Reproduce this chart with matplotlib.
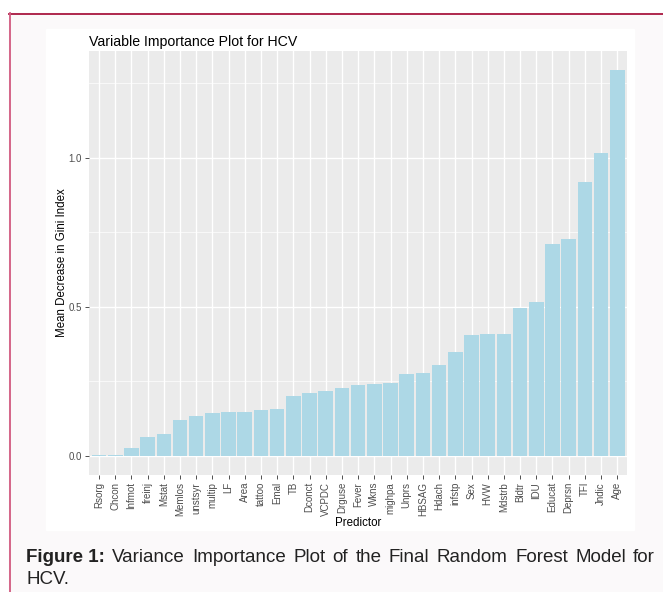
import numpy as np
import matplotlib.pyplot as plt
from matplotlib.patches import Rectangle
from matplotlib.lines import Line2D

plt.rcParams['font.family'] = ['Liberation Sans', 'DejaVu Sans']

predictors = ["Rsorg", "Chcon", "Infmot", "freinj", "Mstat", "Memlos", "unstsyr",
              "multip", "LF", "Area", "tattoo", "Emal", "TB", "Dconct", "VCPDC",
              "Drguse", "Fever", "Wkns", "mighpa", "Unprs", "HBSAG", "Hdach",
              "infstp", "Sex", "HVW", "Mdstrb", "Bldtr", "IDU", "Educat", "Deprsn",
              "TFI", "Jndic", "Age"]
gini_decrease = [0.002, 0.002, 0.026, 0.064, 0.074, 0.120, 0.132, 0.144, 0.148,
                 0.148, 0.152, 0.158, 0.202, 0.210, 0.218, 0.229, 0.238, 0.240,
                 0.243, 0.276, 0.278, 0.306, 0.349, 0.404, 0.407, 0.407, 0.497,
                 0.515, 0.712, 0.729, 0.918, 1.016, 1.294]

W, H = 663, 592
fig = plt.figure(figsize=(W / 100, H / 100), dpi=100, facecolor='white')


def box(x0, y0, x1, y1):
    # pixel box (top-left origin) -> figure fraction rectangle args
    return (x0 / W, 1 - y1 / H), (x1 - x0) / W, (y1 - y0) / H


# page background, plot card and frame lines
xy, w, h = box(9, 13, W, H)
fig.add_artist(Rectangle(xy, w, h, transform=fig.transFigure, color='#fbf9fa', zorder=-3))
xy, w, h = box(46, 29, 634, 530)
fig.add_artist(Rectangle(xy, w, h, transform=fig.transFigure, color='white', zorder=-2))
fig.add_artist(Line2D([9 / W, 1], [1 - 13.5 / H] * 2, transform=fig.transFigure,
                      color='#a8173f', lw=1.3))
fig.add_artist(Line2D([9.5 / W] * 2, [0, 1 - 13 / H], transform=fig.transFigure,
                      color='#d25a80', lw=1.3))

ax = fig.add_axes([89.3 / W, 1 - 475 / H, (627 - 89.3) / W, (475 - 51) / H])
ax.set_facecolor('#ebebeb')
for s in ax.spines.values():
    s.set_visible(False)

x = np.arange(len(predictors))
ax.bar(x, gini_decrease, width=0.9, color='#add8e6', zorder=3)

top = max(gini_decrease)
ax.set_ylim(-0.05 * top, top * 1.05)
ax.set_xlim(-0.6, len(predictors) - 0.4)
ax.set_yticks([0.0, 0.5, 1.0])
ax.set_yticklabels(['0.0', '0.5', '1.0'])
ax.set_yticks([0.25, 0.75, 1.25], minor=True)
ax.set_xticks(x)
ax.set_xticklabels(predictors, rotation=90)

ax.grid(True, which='major', color='white', lw=1.0, zorder=0)
ax.grid(True, which='minor', axis='y', color='white', lw=0.5, zorder=0)
ax.set_axisbelow(True)
ax.tick_params(which='major', length=3, width=0.6, color='#333333',
               labelsize=7, labelcolor='#4d4d4d', pad=2.5)
ax.tick_params(axis='x', which='major', pad=2)
ax.tick_params(which='minor', length=0)

ax.set_xlabel('Predictor', fontsize=8.3, labelpad=1)
ax.set_ylabel('Mean Decrease in Gini Index', fontsize=8.3, labelpad=0.5)
fig.text(89 / W, 1 - 46 / H, 'Variable Importance Plot for HCV', fontsize=10.2,
         va='baseline', ha='left')

# caption under the chart, first line justified between the margins
cap_y = 1 - 561.5 / H
head = fig.text(26 / W, cap_y, 'Figure 1:', fontsize=13.5, fontweight='bold',
                va='baseline', ha='left', color='#222222')
words = 'Variance Importance Plot of the Final Random Forest Model for'.split()
items = [head] + [fig.text(0, cap_y, wd, fontsize=13.5, va='baseline', ha='left',
                           color='#222222') for wd in words]
renderer = fig.canvas.get_renderer()
widths = [t.get_window_extent(renderer).width for t in items]
gap = (655 - 26 - sum(widths)) / (len(items) - 1)
pos = 26
for t, wd in zip(items, widths):
    t.set_x(pos / W)
    pos += wd + gap
fig.text(26 / W, 1 - 584.3 / H, 'HCV.', fontsize=13.5, va='baseline', ha='left',
         color='#222222')

fig.savefig('out.png', dpi=100, facecolor=fig.get_facecolor())
